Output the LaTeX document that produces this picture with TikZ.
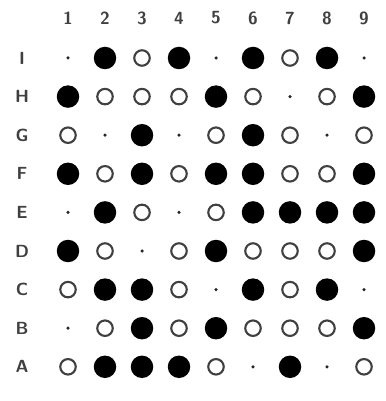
\documentclass[tikz,border=0pt]{standalone}
\usepackage{tikz}
\tikzset{
  stoneb/.style={circle, fill=black, minimum size=0.45cm, inner sep=0pt},
  stonew/.style={circle, draw=black!75, line width=1.2pt, fill=white, minimum size=0.31cm, inner sep=0pt},
  stonee/.style={circle, fill=black!85, minimum size=0.07cm, inner sep=0pt},
  lbl/.style={font=\sffamily\bfseries, text=black!75}
}

\begin{document}
\begin{tikzpicture}[x=0.02cm, y=-0.02cm]
    \useasboundingbox (0,0) rectangle (385,401);
    \foreach \c in {1,...,9} \node[lbl] (n\c) at ({68+37*(\c-1)},18) {\c};
    \foreach \r/\lab/\stones in {
        1/I/{e,b,w,b,e,b,w,b,e},
        2/H/{b,w,w,w,b,w,e,w,b},
        3/G/{w,e,b,e,w,b,w,e,w},
        4/F/{b,w,b,w,b,b,w,w,b},
        5/E/{e,b,w,e,w,b,b,b,b},
        6/D/{b,w,e,w,b,w,w,w,b},
        7/C/{w,b,b,w,e,b,w,b,e},
        8/B/{e,w,b,w,b,w,w,w,b},
        9/A/{w,b,b,b,w,e,b,e,w}} {
      \node[lbl] (r\r) at (22,{58+38.6*(\r-1)}) {\lab};
      \foreach \s [count=\c] in \stones
        \node[stone\s] (p\r-\c) at ({68+37*(\c-1)},{58+38.6*(\r-1)}) {};
    }
\end{tikzpicture}
\end{document}
